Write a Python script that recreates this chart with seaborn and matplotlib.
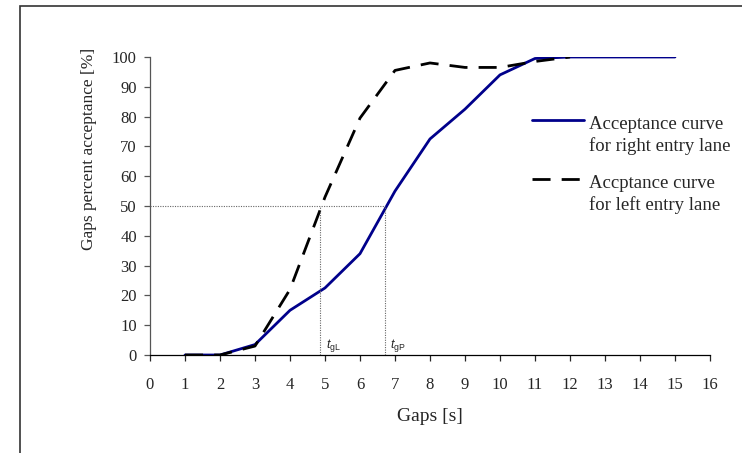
import matplotlib
matplotlib.use("Agg")
import matplotlib.pyplot as plt
import seaborn as sns
import pandas as pd
from matplotlib.patches import Rectangle
from matplotlib.lines import Line2D
from matplotlib.legend_handler import HandlerLine2D

# ---- data ----
gaps_right = [1, 2, 3, 4, 5, 6, 7, 8, 9, 10, 11, 12, 13, 14, 15]
accept_right = [0, 0, 3.5, 15, 22.5, 34, 55, 72.5, 82.5, 94, 99.5, 100, 100, 100, 100]
gaps_left = [1, 2, 3, 4, 5, 6, 7, 8, 9, 10, 11, 12]
accept_left = [0, 0, 3, 22, 53, 79.5, 95.5, 98, 96.5, 96.5, 98.5, 100]
t_gL = 4.86
t_gP = 6.7
x_ticks = list(range(0, 17))
y_ticks = list(range(0, 101, 10))
label_right = "Acceptance curve\nfor right entry lane"
label_left = "Accptance curve\nfor left entry lane"

sns.set_style("ticks")
plt.rcParams["font.family"] = ["Liberation Serif", "DejaVu Serif"]
plt.rcParams["mathtext.fontset"] = "custom"
plt.rcParams["mathtext.rm"] = "Liberation Sans"
plt.rcParams["mathtext.it"] = "Liberation Sans:italic"

W, H = 742, 453
fig = plt.figure(figsize=(W / 100, H / 100), dpi=100)
ax = fig.add_axes([150 / W, 1 - 355 / H, 560 / W, 298 / H])

blue = "#00008B"
dash = (6.5, 4)
df_r = pd.DataFrame({"gap": gaps_right, "acc": accept_right})
df_l = pd.DataFrame({"gap": gaps_left, "acc": accept_left})
sns.lineplot(data=df_r, x="gap", y="acc", color=blue, lw=2, ax=ax)
sns.lineplot(data=df_l, x="gap", y="acc", color="black", lw=2, ax=ax)
ax.lines[-1].set_dashes(dash)

# reference lines
ref = dict(color="#666666", lw=0.8, ls=(0, (1, 1.2)))
ax.plot([0, t_gP], [50, 50], **ref)
ax.plot([t_gL, t_gL], [0, 50], **ref)
ax.plot([t_gP, t_gP], [0, 50], **ref)
ax.text(t_gL + 0.17, 2.5, r"$t_{\rm gL}$", fontsize=9)
ax.text(t_gP + 0.15, 2.5, r"$t_{\rm gP}$", fontsize=9)

ax.set_xlim(0, 16)
ax.set_ylim(0, 100)
ax.set_xticks(x_ticks)
ax.set_yticks(y_ticks)
ax.tick_params(axis="both", labelsize=12, direction="out", length=4.5, width=0.9)
ax.tick_params(axis="x", pad=11)
ax.tick_params(axis="y", pad=5, color="#555555")
sns.despine(ax=ax)
ax.spines["left"].set_color("#555555")
ax.spines["bottom"].set_color("black")
ax.spines["left"].set_linewidth(0.9)
ax.spines["bottom"].set_linewidth(0.9)

ax.set_xlabel("Gaps [s]", fontsize=14, labelpad=11)
ax.set_ylabel("Gaps percent acceptance [%]", fontsize=12.5)
ax.yaxis.set_label_coords(-0.095, 0.69)


class UpHandler(HandlerLine2D):
    def create_artists(self, legend, orig_handle, xdescent, ydescent,
                       width, height, fontsize, trans):
        arts = super().create_artists(legend, orig_handle, xdescent, ydescent,
                                      width, height, fontsize, trans)
        for a in arts:
            a.set_ydata([y + 11 for y in a.get_ydata()])
        return arts


handles = [Line2D([], [], color=blue, lw=2),
           Line2D([], [], color="black", lw=2, dashes=dash)]
leg = ax.legend(handles, [label_right, label_left], frameon=False, fontsize=13.5,
                loc="upper left", bbox_to_anchor=(532 / W, 1 - 116 / H),
                bbox_transform=fig.transFigure, borderpad=0, borderaxespad=0,
                handlelength=2.75, handletextpad=0.28, labelspacing=1.03,
                handler_map={Line2D: UpHandler()})
for t in leg.get_texts():
    t.set_linespacing(1.32)

fig.patches.append(Rectangle((20 / W, -0.05), 1.1, 1 - 6 / H + 0.05,
                             transform=fig.transFigure, fill=False,
                             edgecolor="#333333", lw=1.2, zorder=-1))

fig.savefig("out.png", dpi=100)
